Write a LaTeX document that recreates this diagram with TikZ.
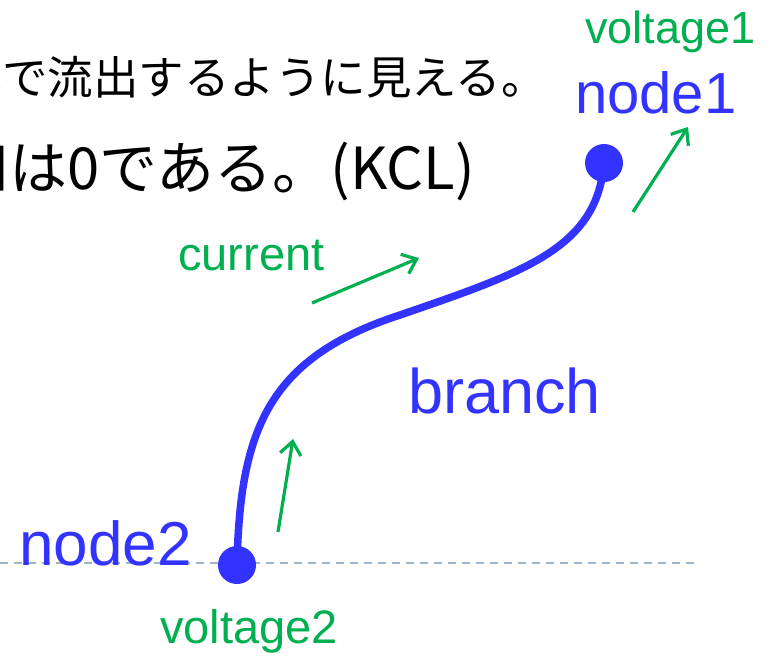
\documentclass[tikz,border=0pt]{standalone}
\usepackage{fontspec}
\setmainfont{Liberation Sans}
\newfontfamily\jp{Noto Sans CJK JP}
\usetikzlibrary{arrows.meta}
\definecolor{nblue}{HTML}{3333FF}
\definecolor{vgreen}{HTML}{00B050}
\definecolor{dgray}{HTML}{A0B4C8}
\tikzset{
  dot/.style={circle, fill=nblue, inner sep=0pt, minimum size=38pt},
  garrow/.style={vgreen, line width=3.2pt, -{Straight Barb[length=13pt,width=21pt,line width=3.2pt]}},
  lbl/.style={inner sep=0pt, anchor=base west},
}
\begin{document}
\begin{tikzpicture}[x=1pt,y=-1pt]
\useasboundingbox (0,0) rectangle (769,656);
\begin{scope}
\clip (0,0) rectangle (769,656);
% Japanese text lines
\node[lbl] (t1) at (-89,94) {\jp\fontsize{45.5}{54}\selectfont 全体で流出するように見える。};
\node[lbl] (t2) at (-107,189) {\jp\fontsize{58}{68}\selectfont 総和は0である。(KCL)};
\end{scope}
% dashed reference line
\coordinate (dl) at (0,563);
\coordinate (dr) at (698,563);
\draw[dgray, line width=1.6pt, dash pattern=on 8pt off 6pt] (dl) -- (dr);
% nodes
\node[dot] (n1) at (604,163) {};
\node[dot] (n2) at (237,565) {};
% branch
\draw[nblue, line width=7.5pt] (n2.center) .. controls (240,430) and (268,358) .. (400,315)
  .. controls (525,272) and (597,248) .. (n1.center);
% labels
\node[lbl, text=nblue] (l1) at (575,113) {\fontsize{58}{66}\selectfont node1};
\node[lbl, text=nblue] (l2) at (19,565) {\fontsize{62}{70}\selectfont node2};
\node[lbl, text=nblue] (lb) at (408,413) {\fontsize{63}{72}\selectfont branch};
\node[lbl, text=vgreen] (v1) at (585,43) {\fontsize{45}{52}\selectfont voltage1};
\node[lbl, text=vgreen] (v2) at (160,643) {\fontsize{47}{54}\selectfont voltage2};
\node[lbl, text=vgreen] (cu) at (178,270) {\fontsize{47}{54}\selectfont current};
% green arrows
\coordinate (a1s) at (633,212); \coordinate (a1e) at (688,127);
\coordinate (a2s) at (312,303); \coordinate (a2e) at (419,258);
\coordinate (a3s) at (278,532); \coordinate (a3e) at (293,439);
\draw[garrow] (a1s) -- (a1e);
\draw[garrow] (a2s) -- (a2e);
\draw[garrow] (a3s) -- (a3e);
\end{tikzpicture}
\end{document}
